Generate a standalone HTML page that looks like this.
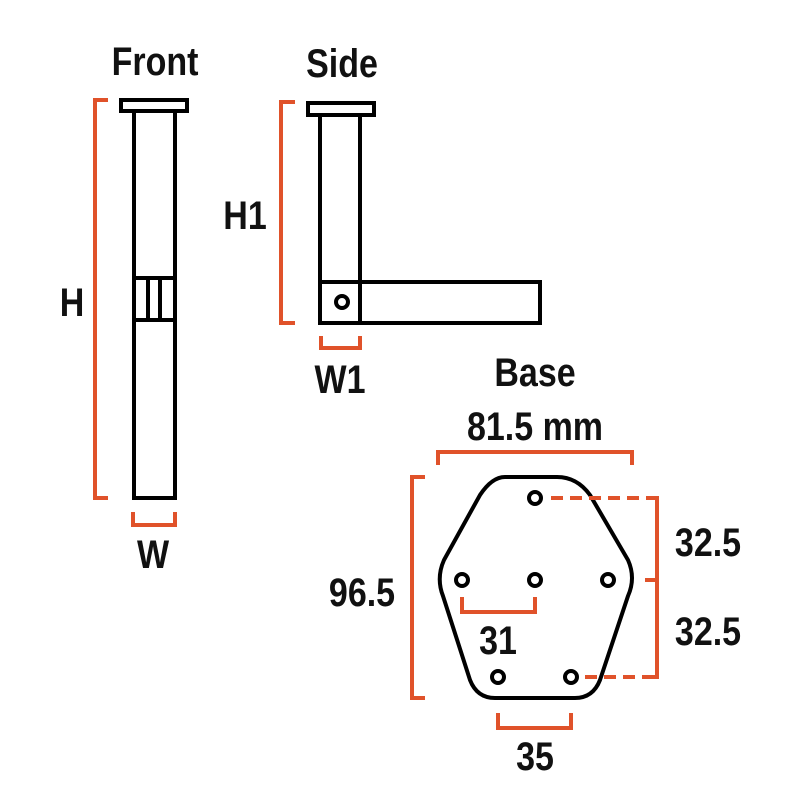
<!DOCTYPE html>
<html><head><style>html,body{margin:0;padding:0;background:#fff;}</style></head><body>
<svg width="800" height="800" viewBox="0 0 800 800" xmlns="http://www.w3.org/2000/svg">
<g fill="none" stroke="#000" stroke-width="4">
<rect x="121" y="100" width="66" height="11"/>
<rect x="134" y="111" width="41" height="387"/>
<line x1="134" y1="278" x2="175" y2="278"/>
<line x1="134" y1="320" x2="175" y2="320"/>
<line x1="148" y1="278" x2="148" y2="320"/>
<line x1="160" y1="278" x2="160" y2="320"/>
<rect x="308" y="103" width="66" height="12"/>
<rect x="320" y="115" width="40" height="208"/>
<rect x="360" y="282" width="180" height="41"/>
<line x1="320" y1="282" x2="360" y2="282"/>
<circle cx="342" cy="302" r="6"/>
<path d="M505,477 L557,477 Q577,477 590,495 L628,560 Q636,578 628,596 L600,680 Q593,698 575,698 L495,698 Q477,698 470,680 L443,596 Q436,578 444,560 L480,495 Q492,477 505,477 Z"/>
<circle cx="535" cy="498" r="6"/>
<circle cx="462" cy="580" r="6"/>
<circle cx="535" cy="580" r="6"/>
<circle cx="608" cy="580" r="6"/>
<circle cx="498" cy="677" r="6"/>
<circle cx="571" cy="677" r="6"/>
</g>
<g fill="none" stroke="#e0522a" stroke-width="4">
<polyline points="108,100 95,100 95,498 108,498"/>
<polyline points="133,512 133,525 175,525 175,512"/>
<polyline points="295,102 281,102 281,323 295,323"/>
<polyline points="321,336 321,348 360,348 360,336"/>
<polyline points="438,465 438,452 632,452 632,465"/>
<polyline points="425,477 412,477 412,698 425,698"/>
<line x1="551" y1="498" x2="657" y2="498" stroke-dasharray="12,7"/>
<line x1="585" y1="677" x2="657" y2="677" stroke-dasharray="12,7"/>
<polyline points="650,498 657,498 657,677 650,677"/>
<line x1="645" y1="580" x2="657" y2="580"/>
<polyline points="462,597 462,612 535,612 535,597"/>
<polyline points="498,713 498,728 571,728 571,713"/>
</g>
<g font-family="Liberation Sans, sans-serif" font-size="40" font-weight="bold" fill="#111" text-anchor="middle">
<text transform="translate(155,75) scale(0.85,1)">Front</text>
<text transform="translate(342,77) scale(0.85,1)">Side</text>
<text transform="translate(72,316) scale(0.85,1)">H</text>
<text transform="translate(245,229) scale(0.85,1)">H1</text>
<text transform="translate(153,568) scale(0.85,1)">W</text>
<text transform="translate(340,393) scale(0.85,1)">W1</text>
<text transform="translate(535,386) scale(0.85,1)">Base</text>
<text transform="translate(535,440) scale(0.85,1)">81.5 mm</text>
<text transform="translate(362,606) scale(0.85,1)">96.5</text>
<text transform="translate(708,556) scale(0.85,1)">32.5</text>
<text transform="translate(708,645) scale(0.85,1)">32.5</text>
<text transform="translate(498,654) scale(0.85,1)">31</text>
<text transform="translate(535,770) scale(0.85,1)">35</text>
</g>
</svg>
</body></html>
